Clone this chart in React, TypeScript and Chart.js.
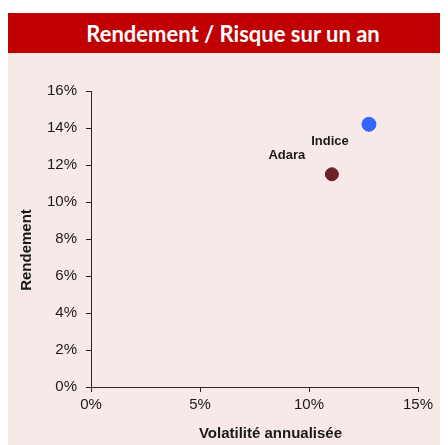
import React, { useEffect, useRef } from "react";
import { Chart, registerables } from "chart.js";

Chart.register(...registerables);

const titleText = "Rendement / Risque sur un an";
const xAxisTitle = "Volatilité annualisée";
const yAxisTitle = "Rendement";
const seriesNames = ["Indice", "Adara"];
const volatility = [12.75, 11.05];
const returns = [14.2, 11.5];
const pointColors = ["#3366FF", "#6B2226"];
const pointRadii = [7, 6.5];
const labelOffsets = [
  [-39, 17],
  [-45, -19],
];
const xTicks = [0, 5, 10, 15];
const yTicks = [0, 2, 4, 6, 8, 10, 12, 14, 16];

const AXIS = "#262626";
const FONT = "'Liberation Sans', Arial, sans-serif";

export default function App() {
  const ref = useRef<HTMLCanvasElement | null>(null);

  useEffect(() => {
    document.documentElement.style.overflow = "hidden";
    document.body.style.overflow = "hidden";
    const canvas = ref.current;
    if (!canvas) return;

    const labelPlugin = {
      id: "labels",
      afterDraw(chart: any) {
        const ctx = chart.ctx;
        const xs = chart.scales.x;
        const ys = chart.scales.y;
        const area = chart.chartArea;
        ctx.save();
        ctx.fillStyle = "#1a1a1a";
        ctx.font = `bold 13px ${FONT}`;
        ctx.textAlign = "center";
        ctx.textBaseline = "middle";
        seriesNames.forEach((name, i) => {
          const px = xs.getPixelForValue(volatility[i]);
          const py = ys.getPixelForValue(returns[i]);
          ctx.fillText(name, px + labelOffsets[i][0], py + labelOffsets[i][1]);
        });
        ctx.font = `bold 15px ${FONT}`;
        ctx.fillText(xAxisTitle, (area.left + area.right) / 2 + 16, area.bottom + 47);
        ctx.translate(19, (area.top + area.bottom) / 2 + 11);
        ctx.rotate(-Math.PI / 2);
        ctx.fillText(yAxisTitle, 0, 0);
        ctx.restore();
      },
    };

    const chart = new Chart(canvas, {
      type: "scatter",
      data: {
        datasets: seriesNames.map((name, i) => ({
          label: name,
          data: [{ x: volatility[i], y: returns[i] }],
          backgroundColor: pointColors[i],
          borderColor: pointColors[i],
          pointRadius: pointRadii[i],
          pointHoverRadius: pointRadii[i],
        })),
      },
      options: {
        responsive: false,
        animation: false,
        layout: { padding: { left: 0, top: 38, right: 30, bottom: 0 } },
        plugins: {
          legend: { display: false },
          tooltip: { enabled: false },
          title: { display: false },
        },
        scales: {
          x: {
            type: "linear",
            min: 0,
            max: 15,
            afterBuildTicks: (s: any) => {
              s.ticks = xTicks.map((v) => ({ value: v }));
            },
            afterFit: (s: any) => {
              s.height = 58;
            },
            grid: {
              display: true,
              drawOnChartArea: false,
              drawTicks: true,
              tickLength: 5,
              color: AXIS,
              lineWidth: 1,
            },
            border: { display: true, color: AXIS, width: 1 },
            ticks: {
              color: "#1a1a1a",
              font: { family: FONT, size: 15 },
              padding: 4,
              maxRotation: 0,
              callback: (v: any) => `${v}%`,
            },
          },
          y: {
            type: "linear",
            min: 0,
            max: 16,
            afterBuildTicks: (s: any) => {
              s.ticks = yTicks.map((v) => ({ value: v }));
            },
            afterFit: (s: any) => {
              s.width = 83;
            },
            grid: {
              display: true,
              drawOnChartArea: false,
              drawTicks: true,
              tickLength: 5,
              color: AXIS,
              lineWidth: 1,
            },
            border: { display: true, color: AXIS, width: 1 },
            ticks: {
              color: "#1a1a1a",
              font: { family: FONT, size: 15 },
              padding: 9,
              callback: (v: any) => `${v}%`,
            },
          },
        },
      },
      plugins: [labelPlugin],
    });
    return () => chart.destroy();
  }, []);

  return (
    <div style={{ width: 440, height: 437, position: "relative" }}>
      <div style={{ height: 5, background: "#ffffff" }} />
      <div
        style={{
          height: 40,
          background: "#C00000",
          color: "#ffffff",
          display: "flex",
          alignItems: "center",
          justifyContent: "center",
          fontFamily: "Lato, sans-serif",
          fontWeight: 700,
          fontSize: 22,
          paddingLeft: 10,
          boxSizing: "border-box",
        }}
      >
        {titleText}
      </div>
      <div style={{ height: 392, background: "#F8E9E9" }}>
        <canvas ref={ref} width={440} height={392} style={{ display: "block" }} />
      </div>
    </div>
  );
}
